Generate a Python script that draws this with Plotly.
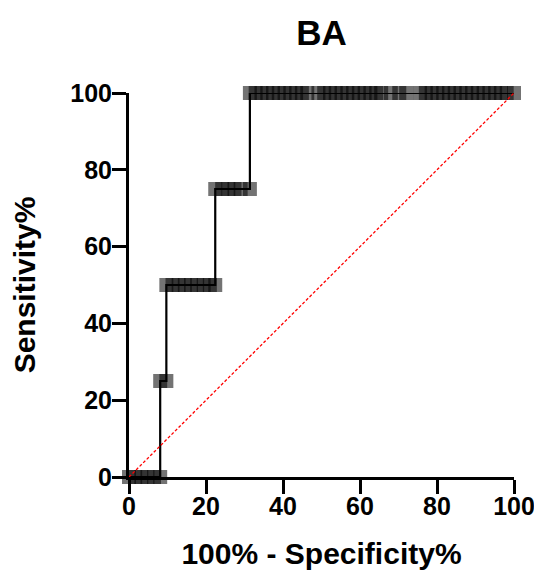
import plotly.graph_objects as go

# ROC points: 100% - Specificity% (x) and Sensitivity% (y)
fpr = [0, 1.6, 3.2, 4.8, 6.5, 8.1,
       8.1, 9.7,
       9.7, 11.3, 12.9, 14.5, 16.1, 17.7, 19.4, 21.0, 22.4,
       22.4, 24.2, 25.8, 27.4, 29.0, 31.4,
       31.4, 32.9, 34.4, 35.9, 37.4, 38.9, 40.4, 41.9, 43.4, 44.9, 46.3,
       49.2, 50.7, 52.2, 53.7, 55.2, 56.7, 58.2, 59.7, 61.2, 62.7, 64.2, 65.5,
       68.0, 70.2, 72.0, 75.6, 77.1, 78.6, 80.1, 81.6, 83.1, 84.6, 86.1, 87.6,
       89.1, 90.6, 92.1, 93.6, 95.1, 96.6, 98.1, 100]
tpr = [0, 0, 0, 0, 0, 0,
       25, 25,
       50, 50, 50, 50, 50, 50, 50, 50, 50,
       75, 75, 75, 75, 75, 75,
       100, 100, 100, 100, 100, 100, 100, 100, 100, 100, 100,
       100, 100, 100, 100, 100, 100, 100, 100, 100, 100, 100, 100,
       100, 100, 100, 100, 100, 100, 100, 100, 100, 100, 100, 100,
       100, 100, 100, 100, 100, 100, 100, 100]

ref_x = [0, 100]
ref_y = [0, 100]
x_ticks = [0, 20, 40, 60, 80, 100]
y_ticks = [0, 20, 40, 60, 80, 100]

FONT = "Arial, Liberation Sans, Helvetica, sans-serif"

fig = go.Figure()
fig.add_trace(go.Scatter(x=fpr, y=tpr, mode="markers",
                         marker=dict(symbol="square", size=14, color="rgba(0,0,0,0.55)",
                                     line=dict(width=0)),
                         cliponaxis=False, hoverinfo="skip"))
fig.add_trace(go.Scatter(x=fpr, y=tpr, mode="lines",
                         line=dict(color="black", width=2.2),
                         cliponaxis=False))
fig.add_trace(go.Scatter(x=ref_x, y=ref_y, mode="lines",
                         line=dict(color="#ff0000", width=1.3, dash="3px,2px"),
                         cliponaxis=False))

axis_common = dict(
    showgrid=False, zeroline=False, showline=True, linecolor="black", linewidth=3,
    ticks="outside", ticklen=14, tickwidth=3, tickcolor="black",
    tickfont=dict(family=FONT, size=25, color="black", weight="bold"),
    range=[0, 100], fixedrange=True, automargin=False,
)

# page body has an 8px margin, so the figure is sized to the remaining area
W, H = 534, 570
fig.update_layout(
    width=W, height=H,
    margin=dict(l=121, r=28, t=85, b=101, autoexpand=False),
    plot_bgcolor="white", paper_bgcolor="white",
    showlegend=False,
    title=dict(text="<b>BA</b>", x=0.5, xref="paper", y=1 - 25 / H, yref="container",
               yanchor="middle", font=dict(family=FONT, size=35, color="black")),
    xaxis=dict(**axis_common, tickvals=x_ticks, ticklabelstandoff=-9,
               title=dict(text="<b>100% - Specificity%</b>", standoff=24,
                          font=dict(family=FONT, size=30, color="black"))),
    yaxis=dict(**axis_common, tickvals=y_ticks, ticklabelstandoff=-5,
               title=dict(text="<b>Sensitivity%</b>", standoff=29,
                          font=dict(family=FONT, size=30, color="black"))),
)

fig.write_html("out.html")
